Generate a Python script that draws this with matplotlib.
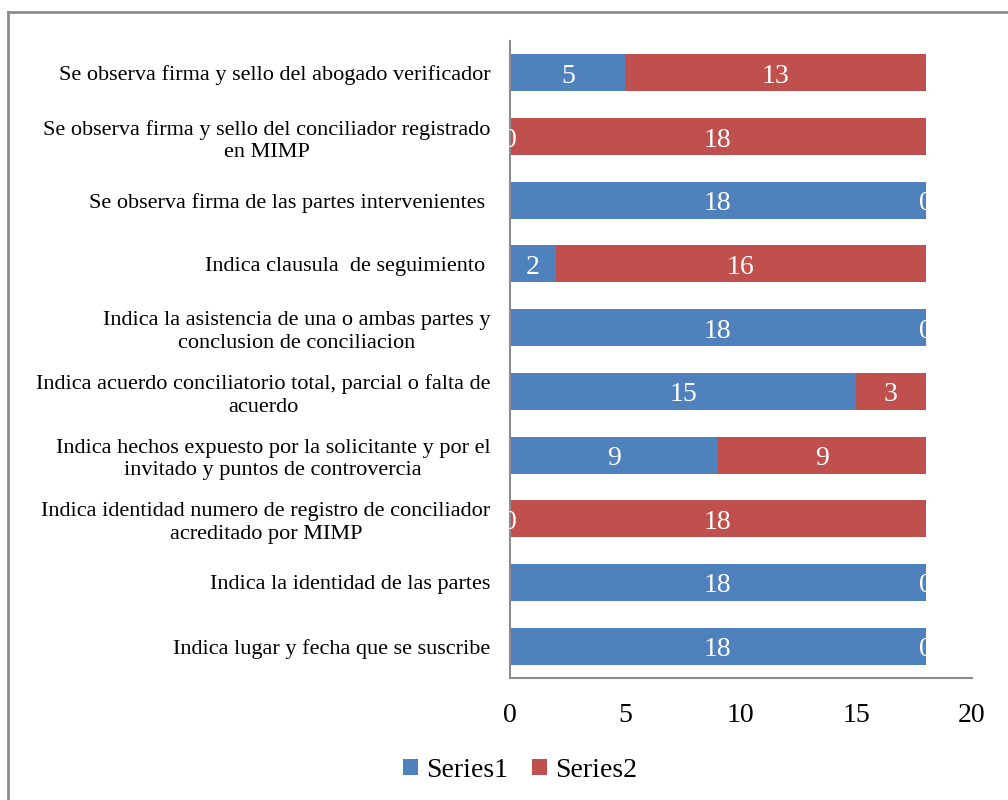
import matplotlib
matplotlib.use("Agg")
import matplotlib.pyplot as plt
from matplotlib.lines import Line2D
import numpy as np

plt.rcParams['font.family'] = ['Liberation Serif', 'DejaVu Serif']

categories = [
    "Indica lugar y fecha que se suscribe",
    "Indica la identidad de las partes",
    "Indica identidad numero de registro de conciliador\nacreditado por MIMP",
    "Indica hechos expuesto por la solicitante y por el\ninvitado y puntos de controvercia",
    "Indica acuerdo conciliatorio total, parcial o falta de\nacuerdo",
    "Indica la asistencia de una o ambas partes y\nconclusion de conciliacion",
    "Indica clausula  de seguimiento ",
    "Se observa firma de las partes intervenientes ",
    "Se observa firma y sello del conciliador registrado\nen MIMP",
    "Se observa firma y sello del abogado verificador",
]
series1 = [18, 18, 0, 9, 15, 18, 2, 18, 0, 5]
series2 = [0, 0, 18, 9, 3, 0, 16, 0, 18, 13]
series_names = ["Series1", "Series2"]
xticks = [0, 5, 10, 15, 20]

blue = "#4F81BD"
red = "#C0504D"

fig = plt.figure(figsize=(10.08, 8), dpi=100)
ax = fig.add_axes([0.506, 0.1525, 0.458, 0.79625])

y = np.arange(len(categories))
h = 0.58
b1 = ax.barh(y, series1, height=h, color=blue, edgecolor='none', label=series_names[0], zorder=2)
b2 = ax.barh(y, series2, left=series1, height=h, color=red, edgecolor='none', label=series_names[1], zorder=2)

for bars in (b1, b2):
    anns = ax.bar_label(bars, labels=[str(int(v)) for v in bars.datavalues], label_type='center',
                        color='white', fontsize=20, zorder=4)
    for a in anns:
        a.xyann = (0, -2.5)

ax.set_xlim(0, 20)
ax.set_ylim(-0.5, len(categories) - 0.5)
ax.set_xticks(xticks)
ax.set_xticklabels([str(t) for t in xticks], fontsize=20)
ax.set_yticks(y)
ax.set_yticklabels(categories, fontsize=16, multialignment='center', linespacing=1.25)
ax.tick_params(axis='y', length=0, pad=14)
ax.tick_params(axis='x', length=0, pad=18)
for s in ['top', 'right']:
    ax.spines[s].set_visible(False)
for s in ['left', 'bottom']:
    ax.spines[s].set_color('#8C8C8C')
    ax.spines[s].set_linewidth(1.5)
    ax.spines[s].set_zorder(3)

leg = fig.legend(handles=[b1, b2], labels=series_names, loc='center', bbox_to_anchor=(0.516, 0.037),
                 ncol=2, frameon=False, fontsize=20, handlelength=0.55, handleheight=0.55,
                 handletextpad=0.3, columnspacing=0.85)

# outer chart frame
fig.add_artist(Line2D([8/1008, 8/1008], [0, 1 - 12/800], color='#8C8C8C', lw=2, transform=fig.transFigure))
fig.add_artist(Line2D([8/1008, 1], [1 - 12/800, 1 - 12/800], color='#8C8C8C', lw=2, transform=fig.transFigure))

fig.savefig("out.png", dpi=100, facecolor='white')
